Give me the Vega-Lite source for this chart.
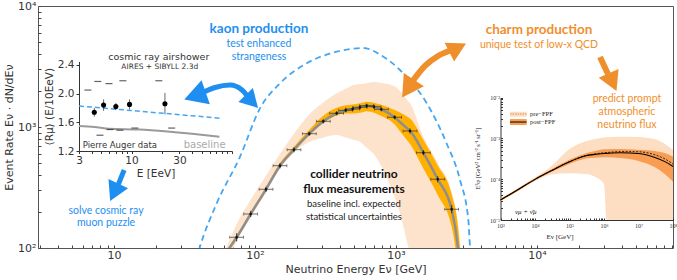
{
"$schema": "https://vega.github.io/schema/vega-lite/v6.json",
"width": 635, "height": 242,
"autosize": {"type": "none"},
"padding": {"left": 38, "top": 6, "right": 4, "bottom": 32},
"background": "white",
"config": {"view": {"stroke": "#555", "strokeWidth": 1}, "axis": {"grid": false}},
"datasets": {
"band": [
{"E":58,"C":77,"YH":80,"YL":74.7,"PH":82.5,"PL":60},
{"E":66,"C":100,"YH":104,"YL":97,"PH":115.8,"PL":85},
{"E":74.1,"C":122.6,"YH":127.5,"YL":118.9,"PH":157,"PL":113},
{"E":93.2,"C":191,"YH":198.6,"YL":185.3,"PH":250,"PL":178},
{"E":119.7,"C":305.6,"YH":317.8,"YL":296.4,"PH":395.6,"PL":287},
{"E":150.4,"C":479,"YH":503,"YL":464.6,"PH":600,"PL":450},
{"E":189,"C":649,"YH":688,"YL":629.5,"PH":881,"PL":615},
{"E":242.7,"C":880,"YH":950,"YL":853.6,"PH":1268,"PL":750},
{"E":305,"C":1114,"YH":1236.5,"YL":1080.6,"PH":1594,"PL":820},
{"E":379.6,"C":1298,"YH":1440.8,"YL":1246,"PH":1897,"PL":859},
{"E":439.7,"C":1374,"YH":1511,"YL":1292,"PH":2067,"PL":817},
{"E":493,"C":1409,"YH":1536,"YL":1296,"PH":2215,"PL":786},
{"E":555,"C":1455,"YH":1571,"YL":1310,"PH":2263,"PL":755},
{"E":619,"C":1500,"YH":1620,"YL":1350,"PH":2303,"PL":674},
{"E":698,"C":1472,"YH":1590,"YL":1310,"PH":2350,"PL":595},
{"E":787,"C":1400,"YH":1526,"YL":1232,"PH":2315,"PL":476},
{"E":979,"C":1203,"YH":1383,"YL":1047,"PH":2173,"PL":261},
{"E":1067,"C":1100,"YH":1320,"YL":924,"PH":1991,"PL":193.7},
{"E":1222,"C":955,"YH":1203,"YL":754,"PH":1636,"PL":102.5},
{"E":1257,"C":927,"YH":1177,"YL":723,"PH":1571,"PL":90},
{"E":1563,"C":613,"YH":785,"YL":454,"PH":832,"PL":10},
{"E":1977,"C":370,"YH":481,"YL":274,"PH":505,"PL":10},
{"E":2483,"C":209,"YH":278,"YL":150,"PH":292,"PL":10},
{"E":2754,"C":100,"YH":150,"YL":65,"PH":160,"PL":10},
{"E":2900,"C":50,"YH":75,"YL":30,"PH":92.5,"PL":10},
{"E":3000,"C":30,"YH":45,"YL":18,"PH":75,"PL":10}
],
"points": [
{"E":74.1,"V":122.6,"Elo":66.2,"Ehi":83.0,"Vlo":113.5,"Vhi":132.4},
{"E":93.2,"V":191,"Elo":83.2,"Ehi":104.4,"Vlo":180.2,"Vhi":202.5},
{"E":119.7,"V":305.6,"Elo":106.9,"Ehi":134.1,"Vlo":291,"Vhi":321},
{"E":150.4,"V":479,"Elo":134.3,"Ehi":168.4,"Vlo":456,"Vhi":503},
{"E":189,"V":649,"Elo":168.8,"Ehi":211.7,"Vlo":618,"Vhi":681},
{"E":242.7,"V":880,"Elo":216.7,"Ehi":271.8,"Vlo":846,"Vhi":915},
{"E":305,"V":1114,"Elo":272.3,"Ehi":341.6,"Vlo":1071,"Vhi":1159},
{"E":379.6,"V":1298,"Elo":338.9,"Ehi":425.2,"Vlo":1248,"Vhi":1350},
{"E":439.7,"V":1374,"Elo":392.6,"Ehi":492.5,"Vlo":1321,"Vhi":1429},
{"E":493,"V":1409,"Elo":440.2,"Ehi":552.2,"Vlo":1355,"Vhi":1465},
{"E":555,"V":1455,"Elo":495.5,"Ehi":621.6,"Vlo":1399,"Vhi":1513},
{"E":619,"V":1500,"Elo":552.7,"Ehi":693.3,"Vlo":1442,"Vhi":1560},
{"E":698,"V":1472,"Elo":623.2,"Ehi":781.8,"Vlo":1415,"Vhi":1531},
{"E":787,"V":1400,"Elo":702.7,"Ehi":881.4,"Vlo":1346,"Vhi":1456},
{"E":979,"V":1203,"Elo":874.1,"Ehi":1096.5,"Vlo":1157,"Vhi":1251},
{"E":1257,"V":927,"Elo":1122.3,"Ehi":1407.8,"Vlo":883,"Vhi":973},
{"E":1563,"V":613,"Elo":1395.5,"Ehi":1750.6,"Vlo":584,"Vhi":644},
{"E":1977,"V":370,"Elo":1765.2,"Ehi":2214.2,"Vlo":349,"Vhi":392},
{"E":2483,"V":209,"Elo":2217,"Ehi":2781,"Vlo":194,"Vhi":226}
],
"kaon": [
{"E":38.2,"V":79.6},{"E":40.7,"V":102.5},{"E":53.5,"V":233.9},{"E":78.3,"V":568},{"E":108.5,"V":1427},{"E":150.4,"V":2296},{"E":232.7,"V":3361},{"E":379.6,"V":4190},{"E":480,"V":4416},{"E":583,"V":4498},{"E":800,"V":3863},{"E":1067,"V":2958},{"E":1652,"V":1571},{"E":2264,"V":751},{"E":2844,"V":365},{"E":3260,"V":170},{"E":3350,"V":102.5},{"E":3460,"V":80}
],
"shafts": [
{"id":"ba","E":40.7,"V":1875},{"id":"ba","E":52.0,"V":2121},{"id":"ba","E":66.5,"V":2223},{"id":"ba","E":80.9,"V":2023},{"id":"ba","E":89.2,"V":1770},
{"id":"bd","E":11.8,"V":441},{"id":"bd","E":10.7,"V":332},
{"id":"oa","E":1299,"V":2355},{"id":"oa","E":1606,"V":3193},{"id":"oa","E":1986,"V":3862},{"id":"oa","E":2495,"V":4329},
{"id":"od","E":27990,"V":3789},{"id":"od","E":31880,"V":2742}
],
"heads": [
{"id":"bl","E":39.2,"V":1839},
{"id":"br","E":92.6,"V":1675},
{"id":"bd","E":10.2,"V":301},
{"id":"ol","E":1246,"V":2168},
{"id":"ou","E":2647,"V":4421},
{"id":"od","E":33810,"V":2449}
],
"notes": [
{"t":"kaon production","k":"bb","E":106.7,"V":6457},
{"t":"test enhanced","k":"bn","E":106.7,"V":4853},
{"t":"strangeness","k":"bn","E":106.7,"V":3789},
{"t":"solve cosmic ray","k":"bn","E":8.78,"V":202},
{"t":"muon puzzle","k":"bn","E":8.78,"V":161},
{"t":"charm production","k":"ob","E":10330,"V":6334},
{"t":"unique test of low-x QCD","k":"on","E":10330,"V":4764},
{"t":"predict prompt","k":"on","E":43450,"V":1702},
{"t":"atmospheric","k":"on","E":43450,"V":1330},
{"t":"neutrino flux","k":"on","E":43450,"V":1039},
{"t":"collider neutrino","k":"kb","E":503,"V":405},
{"t":"flux measurements","k":"kb","E":503,"V":310},
{"t":"baseline incl. expected","k":"kn","E":503,"V":231},
{"t":"statistical uncertainties","k":"kn","E":503,"V":180}
],
"augKaon": [{"E":3,"v":1.828},{"E":78.2,"v":1.656}],
"augBase": [{"E":3,"v":1.549},{"E":4.26,"v":1.535},{"E":6,"v":1.51},{"E":12,"v":1.5},{"E":24,"v":1.469},{"E":40,"v":1.44},{"E":75,"v":1.4}],
"augPts": [
{"E":4.26,"v":1.74,"lo":1.68,"hi":1.80},
{"E":5.27,"v":1.84,"lo":1.76,"hi":1.92},
{"E":6.98,"v":1.82,"lo":1.77,"hi":1.87},
{"E":9.55,"v":1.85,"lo":1.78,"hi":1.92},
{"E":21.5,"v":1.86,"lo":1.71,"hi":2.01}
],
"augSys": [
{"E":3.68,"v":2.05},{"E":4.62,"v":2.17},{"E":5.96,"v":2.14},{"E":8.2,"v":2.18},{"E":18.7,"v":2.18},
{"E":4.85,"v":1.42},{"E":6.1,"v":1.5},{"E":7.66,"v":1.49},{"E":10.8,"v":1.52},{"E":25.1,"v":1.52}
],
"augText": [
{"t":"cosmic ray airshower","k":"h","E":18.66,"v":2.515},
{"t":"AIRES + SIBYLL 2.3d","k":"s","E":19.09,"v":2.367},
{"t":"Pierre Auger data","k":"p","E":3.265,"v":1.284},
{"t":"baseline","k":"b","E":53.4,"v":1.284}
],
"pf": [
{"E":1000,"L":3.09e-5,"D":3.09e-5,"OL":2.9e-5,"OH":3.3e-5,"PL":2.9e-5,"PH":3.3e-5},
{"E":3000,"L":5.35e-5,"D":5.35e-5,"OL":5.0e-5,"OH":5.7e-5,"PL":5.0e-5,"PH":5.8e-5},
{"E":10000,"L":9.9e-5,"D":9.9e-5,"OL":9.3e-5,"OH":1.05e-4,"PL":9.0e-5,"PH":1.1e-4},
{"E":30000,"L":1.62e-4,"D":1.62e-4,"OL":1.5e-4,"OH":1.75e-4,"PL":1.3e-4,"PH":2.1e-4},
{"E":100000,"L":2.68e-4,"D":2.7e-4,"OL":2.35e-4,"OH":3.0e-4,"PL":1.4e-4,"PH":5.5e-4},
{"E":300000,"L":3.75e-4,"D":3.8e-4,"OL":3.2e-4,"OH":4.3e-4,"PL":1.35e-4,"PH":8.5e-4},
{"E":550000,"L":4.05e-4,"D":4.15e-4,"OL":3.35e-4,"OH":4.9e-4,"PL":1.15e-4,"PH":9.6e-4},
{"E":1000000,"L":4.28e-4,"D":4.45e-4,"OL":3.44e-4,"OH":5.4e-4,"PL":7.5e-5,"PH":1.05e-3},
{"E":1200000,"L":4.3e-4,"D":4.5e-4,"OL":3.43e-4,"OH":5.42e-4,"PL":1e-5,"PH":1.06e-3},
{"E":3000000,"L":4.45e-4,"D":4.75e-4,"OL":3.3e-4,"OH":5.5e-4,"PL":1e-5,"PH":1.1e-3},
{"E":10000000,"L":4.25e-4,"D":4.7e-4,"OL":2.8e-4,"OH":5.3e-4,"PL":1e-5,"PH":1.08e-3},
{"E":30000000,"L":3.4e-4,"D":3.95e-4,"OL":1.95e-4,"OH":4.9e-4,"PL":1e-5,"PH":9.5e-4},
{"E":60000000,"L":2.66e-4,"D":3.1e-4,"OL":1.3e-4,"OH":4.3e-4,"PL":1e-5,"PH":7.2e-4},
{"E":100000000,"L":2.05e-4,"D":2.35e-4,"OL":8.7e-5,"OH":3.56e-4,"PL":1e-5,"PH":5.2e-4}
],
"pfLeg": [
{"t":"pre−FPF","k":"pre","x1":1884,"x2":5740,"xt":7160,"lo":3.4e-3,"hi":4.51e-3,"m":3.96e-3},
{"t":"post−FPF","k":"post","x1":1884,"x2":5740,"xt":7160,"lo":2.13e-3,"hi":2.98e-3,"m":2.52e-3}
],
"pfText": [
{"t":"νμ + ν̄μ","k":"nu","E":2630,"V":1.57e-5},
{"t":"Eν  [GeV]","k":"xt","E":53090,"V":3.9e-6},
{"t":"E³φ [GeV² cm⁻² s⁻¹ sr⁻¹]","k":"yt","E":227,"V":3.18e-4}
]
},
"layer": [
{
"layer": [
{"data":{"name":"band"},"mark":{"type":"area","color":"#FDE3CB","clip":true,"interpolate":"monotone"},
 "encoding":{
  "x":{"field":"E","type":"quantitative","scale":{"type":"log","domain":[2.89,92200],"nice":false},
   "axis":{"orient":"bottom","title":"Neutrino Energy  Eν [GeV]","values":[3,4,5,6,7,8,9,10,20,30,40,50,60,70,80,90,100,200,300,400,500,600,700,800,900,1000,2000,3000,4000,5000,6000,7000,8000,9000,10000,20000,30000,40000,50000,60000,70000,80000,90000],
    "labelExpr":"datum.value==10?'10':datum.value==100?'10²':datum.value==1000?'10³':datum.value==10000?'10⁴':''",
    "tickSize":-3,"tickColor":"#444","labelPadding":4,"domain":false,"labelFlush":false,"labelOverlap":false,
    "labelFont":"DejaVu Sans","labelFontSize":11,"labelColor":"#333","titleFont":"DejaVu Sans","titleFontSize":11,"titleFontWeight":"normal","titleColor":"#333","titlePadding":3}},
  "y":{"field":"PH","type":"quantitative","scale":{"type":"log","domain":[100,10000],"nice":false},
   "axis":{"orient":"left","title":"Event Rate  Eν · dN/dEν","values":[100,200,300,400,500,600,700,800,900,1000,2000,3000,4000,5000,6000,7000,8000,9000,10000],
    "labelExpr":"datum.value==100?'10²':datum.value==1000?'10³':datum.value==10000?'10⁴':''",
    "tickSize":-3,"tickColor":"#444","labelPadding":5,"domain":false,"labelFlush":false,"labelOverlap":false,
    "labelFont":"DejaVu Sans","labelFontSize":11,"labelColor":"#333","titleFont":"DejaVu Sans","titleFontSize":11,"titleFontWeight":"normal","titleColor":"#333","titlePadding":3}},
  "y2":{"field":"PL"}}},
{"data":{"name":"band"},"mark":{"type":"area","color":"#FFB000","clip":true,"interpolate":"monotone"},
 "encoding":{"x":{"field":"E","type":"quantitative"},"y":{"field":"YH","type":"quantitative"},"y2":{"field":"YL"}}},
{"data":{"name":"band"},"mark":{"type":"line","color":"#8E8E8E","strokeWidth":2.5,"clip":true,"interpolate":"monotone"},
 "encoding":{"x":{"field":"E","type":"quantitative"},"y":{"field":"C","type":"quantitative"}}},
{"data":{"name":"kaon"},"mark":{"type":"line","color":"#45A6F2","strokeWidth":1.8,"strokeDash":[6,4],"clip":true,"interpolate":"monotone"},
 "encoding":{"x":{"field":"E","type":"quantitative"},"y":{"field":"V","type":"quantitative"}}},
{"data":{"name":"points"},"mark":{"type":"rule","color":"#333","strokeWidth":0.7},
 "encoding":{"x":{"field":"Elo","type":"quantitative"},"x2":{"field":"Ehi"},"y":{"field":"V","type":"quantitative"}}},
{"data":{"name":"points"},"mark":{"type":"tick","orient":"vertical","color":"#333","size":3,"thickness":0.8},
 "encoding":{"x":{"field":"Elo","type":"quantitative"},"y":{"field":"V","type":"quantitative"}}},
{"data":{"name":"points"},"mark":{"type":"tick","orient":"vertical","color":"#333","size":3,"thickness":0.8},
 "encoding":{"x":{"field":"Ehi","type":"quantitative"},"y":{"field":"V","type":"quantitative"}}},
{"data":{"name":"points"},"mark":{"type":"rule","color":"#222","strokeWidth":0.9},
 "encoding":{"x":{"field":"E","type":"quantitative"},"y":{"field":"Vlo","type":"quantitative"},"y2":{"field":"Vhi"}}},
{"data":{"name":"points"},"mark":{"type":"point","shape":"square","filled":true,"color":"#111","size":5,"opacity":1},
 "encoding":{"x":{"field":"E","type":"quantitative"},"y":{"field":"V","type":"quantitative"}}},
{"data":{"name":"shafts"},"transform":[{"filter":"datum.id=='ba'"}],"mark":{"type":"line","color":"#1E8FF0","strokeWidth":5,"interpolate":"monotone"},
 "encoding":{"x":{"field":"E","type":"quantitative"},"y":{"field":"V","type":"quantitative"}}},
{"data":{"name":"shafts"},"transform":[{"filter":"datum.id=='bd'"}],"mark":{"type":"line","color":"#1E8FF0","strokeWidth":5},
 "encoding":{"x":{"field":"E","type":"quantitative"},"y":{"field":"V","type":"quantitative"}}},
{"data":{"name":"shafts"},"transform":[{"filter":"datum.id=='oa'"}],"mark":{"type":"line","color":"#EF8F2C","strokeWidth":6,"interpolate":"monotone"},
 "encoding":{"x":{"field":"E","type":"quantitative"},"y":{"field":"V","type":"quantitative"}}},
{"data":{"name":"shafts"},"transform":[{"filter":"datum.id=='od'"}],"mark":{"type":"line","color":"#EF8F2C","strokeWidth":6},
 "encoding":{"x":{"field":"E","type":"quantitative"},"y":{"field":"V","type":"quantitative"}}},
{"data":{"name":"heads"},"transform":[{"filter":"datum.id=='bl'"}],"mark":{"type":"point","shape":"M0,-1L0.9,0.6L-0.9,0.6Z","filled":true,"color":"#1E8FF0","opacity":1,"size":800,"angle":251,"strokeWidth":0},
 "encoding":{"x":{"field":"E","type":"quantitative"},"y":{"field":"V","type":"quantitative"}}},
{"data":{"name":"heads"},"transform":[{"filter":"datum.id=='br'"}],"mark":{"type":"point","shape":"M0,-1L0.9,0.6L-0.9,0.6Z","filled":true,"color":"#1E8FF0","opacity":1,"size":500,"angle":136,"strokeWidth":0},
 "encoding":{"x":{"field":"E","type":"quantitative"},"y":{"field":"V","type":"quantitative"}}},
{"data":{"name":"heads"},"transform":[{"filter":"datum.id=='bd'"}],"mark":{"type":"point","shape":"M0,-1L0.9,0.6L-0.9,0.6Z","filled":true,"color":"#1E8FF0","opacity":1,"size":576,"angle":205,"strokeWidth":0},
 "encoding":{"x":{"field":"E","type":"quantitative"},"y":{"field":"V","type":"quantitative"}}},
{"data":{"name":"heads"},"transform":[{"filter":"datum.id=='ol'"}],"mark":{"type":"point","shape":"M0,-1L0.9,0.6L-0.9,0.6Z","filled":true,"color":"#EF8F2C","opacity":1,"size":716,"angle":213,"strokeWidth":0},
 "encoding":{"x":{"field":"E","type":"quantitative"},"y":{"field":"V","type":"quantitative"}}},
{"data":{"name":"heads"},"transform":[{"filter":"datum.id=='ou'"}],"mark":{"type":"point","shape":"M0,-1L0.9,0.6L-0.9,0.6Z","filled":true,"color":"#EF8F2C","opacity":1,"size":546,"angle":63,"strokeWidth":0},
 "encoding":{"x":{"field":"E","type":"quantitative"},"y":{"field":"V","type":"quantitative"}}},
{"data":{"name":"heads"},"transform":[{"filter":"datum.id=='od'"}],"mark":{"type":"point","shape":"M0,-1L0.9,0.6L-0.9,0.6Z","filled":true,"color":"#EF8F2C","opacity":1,"size":582,"angle":156,"strokeWidth":0},
 "encoding":{"x":{"field":"E","type":"quantitative"},"y":{"field":"V","type":"quantitative"}}},
{"data":{"name":"notes"},"transform":[{"filter":"datum.k=='bb'"}],"mark":{"type":"text","font":"Lato","fontWeight":"bold","fontSize":13.5,"color":"#1E8FF0","align":"center","baseline":"middle"},
 "encoding":{"x":{"field":"E","type":"quantitative"},"y":{"field":"V","type":"quantitative"},"text":{"field":"t"}}},
{"data":{"name":"notes"},"transform":[{"filter":"datum.k=='bn'"}],"mark":{"type":"text","font":"Lato","fontSize":10.5,"color":"#1E8FF0","align":"center","baseline":"middle"},
 "encoding":{"x":{"field":"E","type":"quantitative"},"y":{"field":"V","type":"quantitative"},"text":{"field":"t"}}},
{"data":{"name":"notes"},"transform":[{"filter":"datum.k=='ob'"}],"mark":{"type":"text","font":"Lato","fontWeight":"bold","fontSize":13.5,"color":"#EF8F2C","align":"center","baseline":"middle"},
 "encoding":{"x":{"field":"E","type":"quantitative"},"y":{"field":"V","type":"quantitative"},"text":{"field":"t"}}},
{"data":{"name":"notes"},"transform":[{"filter":"datum.k=='on'"}],"mark":{"type":"text","font":"Lato","fontSize":10.5,"color":"#EF8F2C","align":"center","baseline":"middle"},
 "encoding":{"x":{"field":"E","type":"quantitative"},"y":{"field":"V","type":"quantitative"},"text":{"field":"t"}}},
{"data":{"name":"notes"},"transform":[{"filter":"datum.k=='kb'"}],"mark":{"type":"text","font":"Lato","fontWeight":"bold","fontSize":12,"color":"#111","align":"center","baseline":"middle"},
 "encoding":{"x":{"field":"E","type":"quantitative"},"y":{"field":"V","type":"quantitative"},"text":{"field":"t"}}},
{"data":{"name":"notes"},"transform":[{"filter":"datum.k=='kn'"}],"mark":{"type":"text","font":"Lato","fontSize":9.5,"color":"#222","align":"center","baseline":"middle"},
 "encoding":{"x":{"field":"E","type":"quantitative"},"y":{"field":"V","type":"quantitative"},"text":{"field":"t"}}}
]
},
{
"layer": [
{"data":{"name":"augKaon"},"mark":{"type":"line","color":"#45A6F2","strokeWidth":1.5,"strokeDash":[5,3]},
 "encoding":{
  "x":{"field":"E","type":"quantitative","scale":{"type":"log","domain":[3,100],"range":[41,194],"nice":false},
   "axis":{"orient":"bottom","offset":-97,"title":"E [EeV]","values":[3,4,5,6,7,8,9,10,20,30,40,50,60,70,80,90,100],
    "labelExpr":"datum.value==3?'3':datum.value==10?'10':datum.value==30?'30':''",
    "tickSize":2.5,"tickColor":"#333","domainColor":"#333","labelPadding":2,"labelFlush":false,"labelOverlap":false,
    "labelFont":"DejaVu Sans","labelFontSize":10.5,"labelColor":"#333","titleFont":"DejaVu Sans","titleFontSize":10.5,"titleFontWeight":"normal","titleColor":"#333","titlePadding":2}},
  "y":{"field":"v","type":"quantitative","scale":{"domain":[1.2,2.45],"range":[145,55.4],"nice":false,"zero":false},
   "axis":{"orient":"left","offset":-41,"title":"⟨Rμ⟩ (E/10EeV)","values":[1.2,1.6,2.0,2.4],"format":".1f",
    "tickSize":3,"tickColor":"#333","domainColor":"#333","labelPadding":2,"labelFlush":false,"labelOverlap":false,
    "labelFont":"DejaVu Sans","labelFontSize":10.5,"labelColor":"#333","titleFont":"DejaVu Sans","titleFontSize":10.5,"titleFontWeight":"normal","titleColor":"#333","titlePadding":3}}}},
{"data":{"name":"augBase"},"mark":{"type":"line","color":"#9A9A9A","strokeWidth":2,"interpolate":"monotone"},
 "encoding":{"x":{"field":"E","type":"quantitative"},"y":{"field":"v","type":"quantitative"}}},
{"data":{"name":"augSys"},"mark":{"type":"tick","orient":"horizontal","color":"#222","size":7,"thickness":1.2},
 "encoding":{"x":{"field":"E","type":"quantitative"},"y":{"field":"v","type":"quantitative"}}},
{"data":{"name":"augPts"},"mark":{"type":"rule","color":"#444","strokeWidth":0.8},
 "encoding":{"x":{"field":"E","type":"quantitative"},"y":{"field":"lo","type":"quantitative"},"y2":{"field":"hi"}}},
{"data":{"name":"augPts"},"mark":{"type":"point","shape":"circle","filled":true,"color":"#000","size":26,"opacity":1},
 "encoding":{"x":{"field":"E","type":"quantitative"},"y":{"field":"v","type":"quantitative"}}},
{"data":{"name":"augText"},"transform":[{"filter":"datum.k=='h'"}],"mark":{"type":"text","font":"DejaVu Sans","fontSize":9.5,"color":"#333","align":"center","baseline":"middle"},
 "encoding":{"x":{"field":"E","type":"quantitative"},"y":{"field":"v","type":"quantitative"},"text":{"field":"t"}}},
{"data":{"name":"augText"},"transform":[{"filter":"datum.k=='s'"}],"mark":{"type":"text","font":"DejaVu Sans","fontSize":7.5,"color":"#333","align":"center","baseline":"middle"},
 "encoding":{"x":{"field":"E","type":"quantitative"},"y":{"field":"v","type":"quantitative"},"text":{"field":"t"}}},
{"data":{"name":"augText"},"transform":[{"filter":"datum.k=='p'"}],"mark":{"type":"text","font":"DejaVu Sans","fontSize":8.5,"color":"#333","align":"left","baseline":"middle"},
 "encoding":{"x":{"field":"E","type":"quantitative"},"y":{"field":"v","type":"quantitative"},"text":{"field":"t"}}},
{"data":{"name":"augText"},"transform":[{"filter":"datum.k=='b'"}],"mark":{"type":"text","font":"DejaVu Sans","fontSize":10,"color":"#AAAAAA","align":"center","baseline":"middle"},
 "encoding":{"x":{"field":"E","type":"quantitative"},"y":{"field":"v","type":"quantitative"},"text":{"field":"t"}}}
]
},
{
"layer": [
{"data":{"name":"pf"},"mark":{"type":"area","color":"#FDDEC3","interpolate":"monotone"},
 "encoding":{
  "x":{"field":"E","type":"quantitative","scale":{"type":"log","domain":[1000,100000000],"range":[462.5,635],"nice":false},
   "axis":{"orient":"bottom","offset":-28,"title":null,"values":[1000,2000,3000,4000,5000,6000,7000,8000,9000,10000,20000,30000,40000,50000,60000,70000,80000,90000,100000,200000,300000,400000,500000,600000,700000,800000,900000,1000000,2000000,3000000,4000000,5000000,6000000,7000000,8000000,9000000,10000000,20000000,30000000,40000000,50000000,60000000,70000000,80000000,90000000,100000000],
    "labelExpr":"datum.value==1000?'10³':datum.value==10000?'10⁴':datum.value==100000?'10⁵':datum.value==1000000?'10⁶':datum.value==10000000?'10⁷':datum.value==100000000?'10⁸':''",
    "tickSize":-2,"tickColor":"#333","domainColor":"#333","labelPadding":4,"labelFlush":false,"labelOverlap":false,
    "labelFont":"Liberation Serif","labelFontSize":6,"labelColor":"#333"}},
  "y":{"field":"PH","type":"quantitative","scale":{"type":"log","domain":[0.00001,0.01],"range":[214,91.6],"nice":false},
   "axis":{"orient":"left","offset":-462.5,"title":null,"values":[0.00001,0.00002,0.00003,0.00004,0.00005,0.00006,0.00007,0.00008,0.00009,0.0001,0.0002,0.0003,0.0004,0.0005,0.0006,0.0007,0.0008,0.0009,0.001,0.002,0.003,0.004,0.005,0.006,0.007,0.008,0.009,0.01],
    "labelExpr":"datum.value==0.01?'10⁻²':datum.value==0.001?'10⁻³':datum.value==0.0001?'10⁻⁴':datum.value==0.00001?'10⁻⁵':''",
    "tickSize":-2,"tickColor":"#333","domainColor":"#333","labelPadding":3,"labelFlush":false,"labelOverlap":false,
    "labelFont":"Liberation Serif","labelFontSize":6,"labelColor":"#333"}},
  "y2":{"field":"PL"}}},
{"data":{"name":"pf"},"mark":{"type":"area","color":"#F89D52","interpolate":"monotone"},
 "encoding":{"x":{"field":"E","type":"quantitative"},"y":{"field":"OH","type":"quantitative"},"y2":{"field":"OL"}}},
{"data":{"name":"pf"},"mark":{"type":"line","color":"#222","strokeWidth":1,"strokeDash":[2,1.5],"interpolate":"monotone"},
 "encoding":{"x":{"field":"E","type":"quantitative"},"y":{"field":"D","type":"quantitative"}}},
{"data":{"name":"pf"},"mark":{"type":"line","color":"#000","strokeWidth":1.1,"interpolate":"monotone"},
 "encoding":{"x":{"field":"E","type":"quantitative"},"y":{"field":"L","type":"quantitative"}}},
{"data":{"name":"pfLeg"},"transform":[{"filter":"datum.k=='pre'"}],"mark":{"type":"rect","color":"#FDDEC3"},
 "encoding":{"x":{"field":"x1","type":"quantitative"},"x2":{"field":"x2"},"y":{"field":"hi","type":"quantitative"},"y2":{"field":"lo"}}},
{"data":{"name":"pfLeg"},"transform":[{"filter":"datum.k=='post'"}],"mark":{"type":"rect","color":"#F89D52"},
 "encoding":{"x":{"field":"x1","type":"quantitative"},"x2":{"field":"x2"},"y":{"field":"hi","type":"quantitative"},"y2":{"field":"lo"}}},
{"data":{"name":"pfLeg"},"transform":[{"filter":"datum.k=='pre'"}],"mark":{"type":"rule","color":"#D9905A","strokeWidth":1,"strokeDash":[1.5,1]},
 "encoding":{"x":{"field":"x1","type":"quantitative"},"x2":{"field":"x2"},"y":{"field":"m","type":"quantitative"}}},
{"data":{"name":"pfLeg"},"transform":[{"filter":"datum.k=='post'"}],"mark":{"type":"rule","color":"#000","strokeWidth":1},
 "encoding":{"x":{"field":"x1","type":"quantitative"},"x2":{"field":"x2"},"y":{"field":"m","type":"quantitative"}}},
{"data":{"name":"pfLeg"},"mark":{"type":"text","font":"Liberation Serif","fontSize":6.5,"color":"#222","align":"left","baseline":"middle"},
 "encoding":{"x":{"field":"xt","type":"quantitative"},"y":{"field":"m","type":"quantitative"},"text":{"field":"t"}}},
{"data":{"name":"pfText"},"transform":[{"filter":"datum.k=='nu'"}],"mark":{"type":"text","font":"Liberation Serif","fontStyle":"italic","fontSize":7,"color":"#222","align":"left","baseline":"middle"},
 "encoding":{"x":{"field":"E","type":"quantitative"},"y":{"field":"V","type":"quantitative"},"text":{"field":"t"}}},
{"data":{"name":"pfText"},"transform":[{"filter":"datum.k=='xt'"}],"mark":{"type":"text","font":"Liberation Serif","fontSize":7,"color":"#222","align":"center","baseline":"middle"},
 "encoding":{"x":{"field":"E","type":"quantitative"},"y":{"field":"V","type":"quantitative"},"text":{"field":"t"}}},
{"data":{"name":"pfText"},"transform":[{"filter":"datum.k=='yt'"}],"mark":{"type":"text","font":"Liberation Serif","fontSize":6.5,"color":"#222","align":"center","baseline":"middle","angle":270},
 "encoding":{"x":{"field":"E","type":"quantitative"},"y":{"field":"V","type":"quantitative"},"text":{"field":"t"}}}
]
}
],
"resolve": {"scale": {"x": "independent", "y": "independent"}}
}
